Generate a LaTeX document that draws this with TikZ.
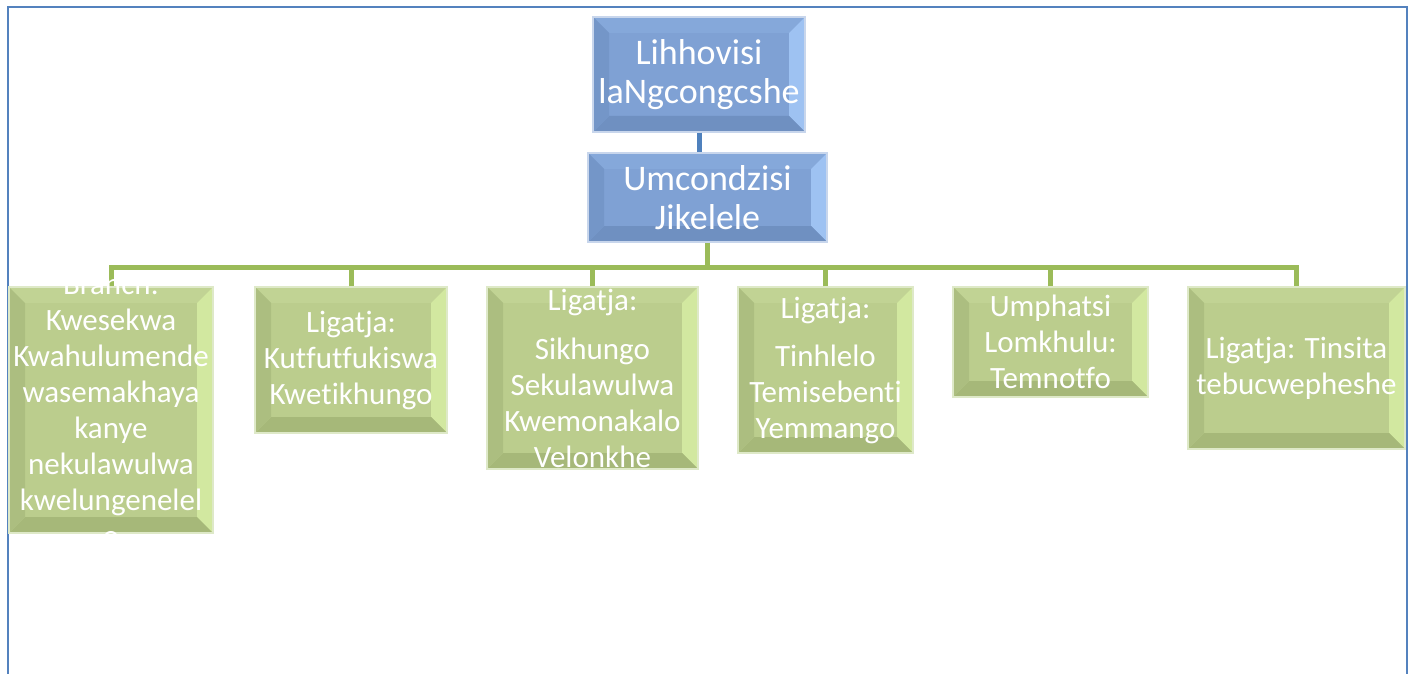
\documentclass[tikz,border=0pt]{standalone}
\usepackage{fontspec}
\setmainfont{Carlito}[Ligatures=NoCommon]
\usepackage{tikz}
\usetikzlibrary{calc}
\usepackage{xcolor}

\definecolor{framecol}{RGB}{84,130,190}
\definecolor{bluemain}{RGB}{127,161,212}
\definecolor{bluetop}{RGB}{133,168,218}
\definecolor{blueright}{RGB}{158,194,242}
\definecolor{blueleft}{RGB}{116,150,200}
\definecolor{bluebot}{RGB}{111,144,193}
\definecolor{blueedge}{RGB}{200,214,236}
\definecolor{greenmain}{RGB}{187,205,141}
\definecolor{greentop}{RGB}{193,211,148}
\definecolor{greenright}{RGB}{210,232,160}
\definecolor{greenleft}{RGB}{172,190,128}
\definecolor{greenbot}{RGB}{166,184,121}
\definecolor{greenedge}{RGB}{222,233,200}
\definecolor{linegreen}{RGB}{155,187,89}
\definecolor{lineblue}{RGB}{79,129,189}

\tikzset{
  bevel/.style n args={4}{path picture={
    \coordinate (nw) at (path picture bounding box.north west);
    \coordinate (ne) at (path picture bounding box.north east);
    \coordinate (sw) at (path picture bounding box.south west);
    \coordinate (se) at (path picture bounding box.south east);
    \fill[#1] (nw) -- (ne) -- ([shift={(-16pt,-16pt)}]ne) -- ([shift={(16pt,-16pt)}]nw) -- cycle;
    \fill[#2] (ne) -- (se) -- ([shift={(-16pt,16pt)}]se) -- ([shift={(-16pt,-16pt)}]ne) -- cycle;
    \fill[#3] (se) -- (sw) -- ([shift={(16pt,16pt)}]sw) -- ([shift={(-16pt,16pt)}]se) -- cycle;
    \fill[#4] (sw) -- (nw) -- ([shift={(16pt,-16pt)}]nw) -- ([shift={(16pt,16pt)}]sw) -- cycle;
  }},
  bbox/.style={rectangle, inner sep=0pt, fill=bluemain, draw=blueedge, line width=1.5pt,
    bevel={bluetop}{blueright}{bluebot}{blueleft}},
  gbox/.style={rectangle, inner sep=0pt, fill=greenmain, draw=greenedge, line width=1.5pt,
    bevel={greentop}{greenright}{greenbot}{greenleft}},
  btext/.style={text=white, align=center, inner sep=0pt, font=\fontsize{36}{39}\selectfont},
  gtext/.style={text=white, align=center, inner sep=0pt, font=\fontsize{31}{36}\selectfont},
  greenline/.style={draw=linegreen, line width=5pt},
  blueline/.style={draw=lineblue, line width=5pt}
}

\begin{document}
\begin{tikzpicture}[x=1pt,y=-1pt]
  \useasboundingbox (0,0) rectangle (1416,674);
  \draw[framecol, line width=2pt] (7.5,674) -- (7.5,7) -- (1407,7) -- (1407,674);

  % boxes
  \node[bbox, minimum width=212, minimum height=115] (lih) at (699,74.5) {};
  \node[bbox, minimum width=239, minimum height=89] (umc) at (707.5,197.5) {};
  \node[gbox, minimum width=204, minimum height=246] (b1) at (111,410) {};
  \node[gbox, minimum width=192, minimum height=146] (b2) at (351,360) {};
  \node[gbox, minimum width=211, minimum height=182] (b3) at (592.5,378) {};
  \node[gbox, minimum width=175, minimum height=166] (b4) at (825.5,370) {};
  \node[gbox, minimum width=195, minimum height=110] (b5) at (1050.5,342) {};
  \node[gbox, minimum width=217, minimum height=162] (b6) at (1296.5,368) {};

  % connectors
  \coordinate (bus) at (0,267);
  \draw[blueline] (lih.south) -- (lih.south |- umc.north);
  \draw[greenline] (umc.south) -- (umc.south |- bus);
  \draw[greenline, line join=miter] (b1.north) -- (b1.north |- bus) -- (b6.north |- bus) -- (b6.north);
  \foreach \n in {b2,b3,b4,b5}
    \draw[greenline] (\n.north) -- (\n.north |- bus);

  % texts
  \node[btext] (tlih) at (lih) {Lihhovisi\\laNgcongcshe};
  \node[btext] (tumc) at (umc) {Umcondzisi\\Jikelele};
  \node[gtext] (t1) at (b1) {Branch:\\Kwesekwa\\Kwahulumende\\wasemakhaya\\kanye\\nekulawulwa\\kwelungenelel\\o};
  \node[gtext] (t2) at (b2) {Ligatja:\\Kutfutfukiswa\\Kwetikhungo};
  \node[gtext] (t3) at (b3) {Ligatja:\\[13pt]Sikhungo\\Sekulawulwa\\Kwemonakalo\\Velonkhe};
  \node[gtext] (t4) at (b4) {Ligatja:\\[12pt]Tinhlelo\\Temisebenti\\Yemmango};
  \node[gtext] (t5) at (b5) {Umphatsi\\Lomkhulu:\\Temnotfo};
  \node[gtext] (t6) at (b6) {Ligatja: Tinsita\\tebucwepheshe};
\end{tikzpicture}
\end{document}
